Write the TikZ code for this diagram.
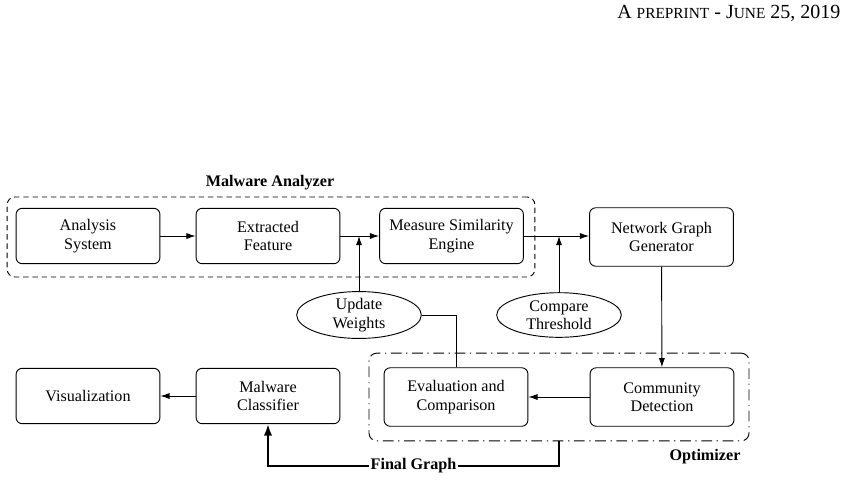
\documentclass[tikz,border=0pt]{standalone}
\usepackage{fontspec}
\setmainfont{Liberation Serif}
\usetikzlibrary{shapes.geometric,arrows.meta}

\begin{document}
\begin{tikzpicture}[x=0.65pt, y=-0.65pt, semithick, font=\fontsize{10.5}{12}\selectfont]
    % Define styles
    \tikzset{
        block/.style={
            draw,
            rounded corners=4pt,
            minimum width=93.5pt,
            minimum height=36pt,
            align=center,
            inner sep=2pt
        },
        oval/.style={
            draw,
            ellipse,
            minimum width=81pt,
            minimum height=29pt,
            align=center,
            inner sep=0pt
        },
        analyzerbox/.style={
            draw,
            dash pattern=on 3.5pt off 2.5pt,
            rounded corners=5pt,
            minimum width=343pt,
            minimum height=52pt
        },
        optbox/.style={
            draw,
            dash pattern=on 7pt off 3pt on 0.8pt off 3pt,
            rounded corners=5pt,
            minimum width=247pt,
            minimum height=57pt
        },
        arrow/.style={
            ->,
            >={Latex[length=6pt,width=4pt]}
        },
        finalarrow/.style={
            ->,
            >={Latex[length=7.5pt,width=5.5pt]},
            line width=1.3pt
        },
        grouplabel/.style={
            font=\fontsize{10.5}{12}\selectfont\bfseries
        }
    }

    \useasboundingbox (0,0) rectangle (853,482);

    % Header
    \node[anchor=east, font=\fontsize{13}{15}\selectfont] (header) at (846,13)
        {A {\fontsize{10}{12}\selectfont PREPRINT} - J{\fontsize{10}{12}\selectfont UNE} 25, 2019};

    % Group frames
    \node[analyzerbox] (analyzer) at (271,237) {};
    \node[optbox] (optimizer) at (559,397) {};
    \node[grouplabel] (analyzerlabel) at (270,183) {Malware Analyzer};
    \node[grouplabel] (optimizerlabel) at (705,457) {Optimizer};

    % Top row
    \node[block] (analysis) at (88,236) {Analysis\\System};
    \node[block] (extracted) at (268,236) {Extracted\\Feature};
    \node[block] (measure) at (451.5,236) {Measure Similarity\\Engine};
    \node[block, minimum height=38pt] (network) at (661.5,237) {Network Graph\\Generator};

    % Weights and threshold
    \node[oval] (update) at (359,315) {Update\\Weights};
    \node[oval] (compare) at (559,315) {Compare\\Threshold};

    % Bottom row
    \node[block] (visual) at (88,396) {Visualization};
    \node[block] (classifier) at (268,396) {Malware\\Classifier};
    \node[block, minimum height=38pt] (eval) at (456,397) {Evaluation and\\Comparison};
    \node[block, minimum height=38pt] (community) at (662,397) {Community\\Detection};

    \coordinate (fgturn) at (268,466);

    % Connections
    \draw[arrow] (analysis) -- (extracted);
    \draw[arrow] (extracted) -- (measure);
    \draw[arrow] (measure.east) -- (network.west |- measure.east);
    \draw[arrow] (update) -- (update |- measure.west);
    \draw[arrow] (compare) -- (compare |- measure.east);
    \draw[arrow] (network) -- (community);
    \draw[arrow] (community) -- (eval);
    \draw[arrow] (classifier) -- (visual);
    \draw (eval) |- (update);

    % Final graph back to the classifier
    \draw[finalarrow] (optimizer.south) |- (fgturn)
        node[pos=0.75, fill=white, inner sep=1pt, font=\fontsize{10.5}{12}\selectfont\bfseries] (finalgraph) {Final Graph}
        -- (classifier.south);

\end{tikzpicture}
\end{document}
